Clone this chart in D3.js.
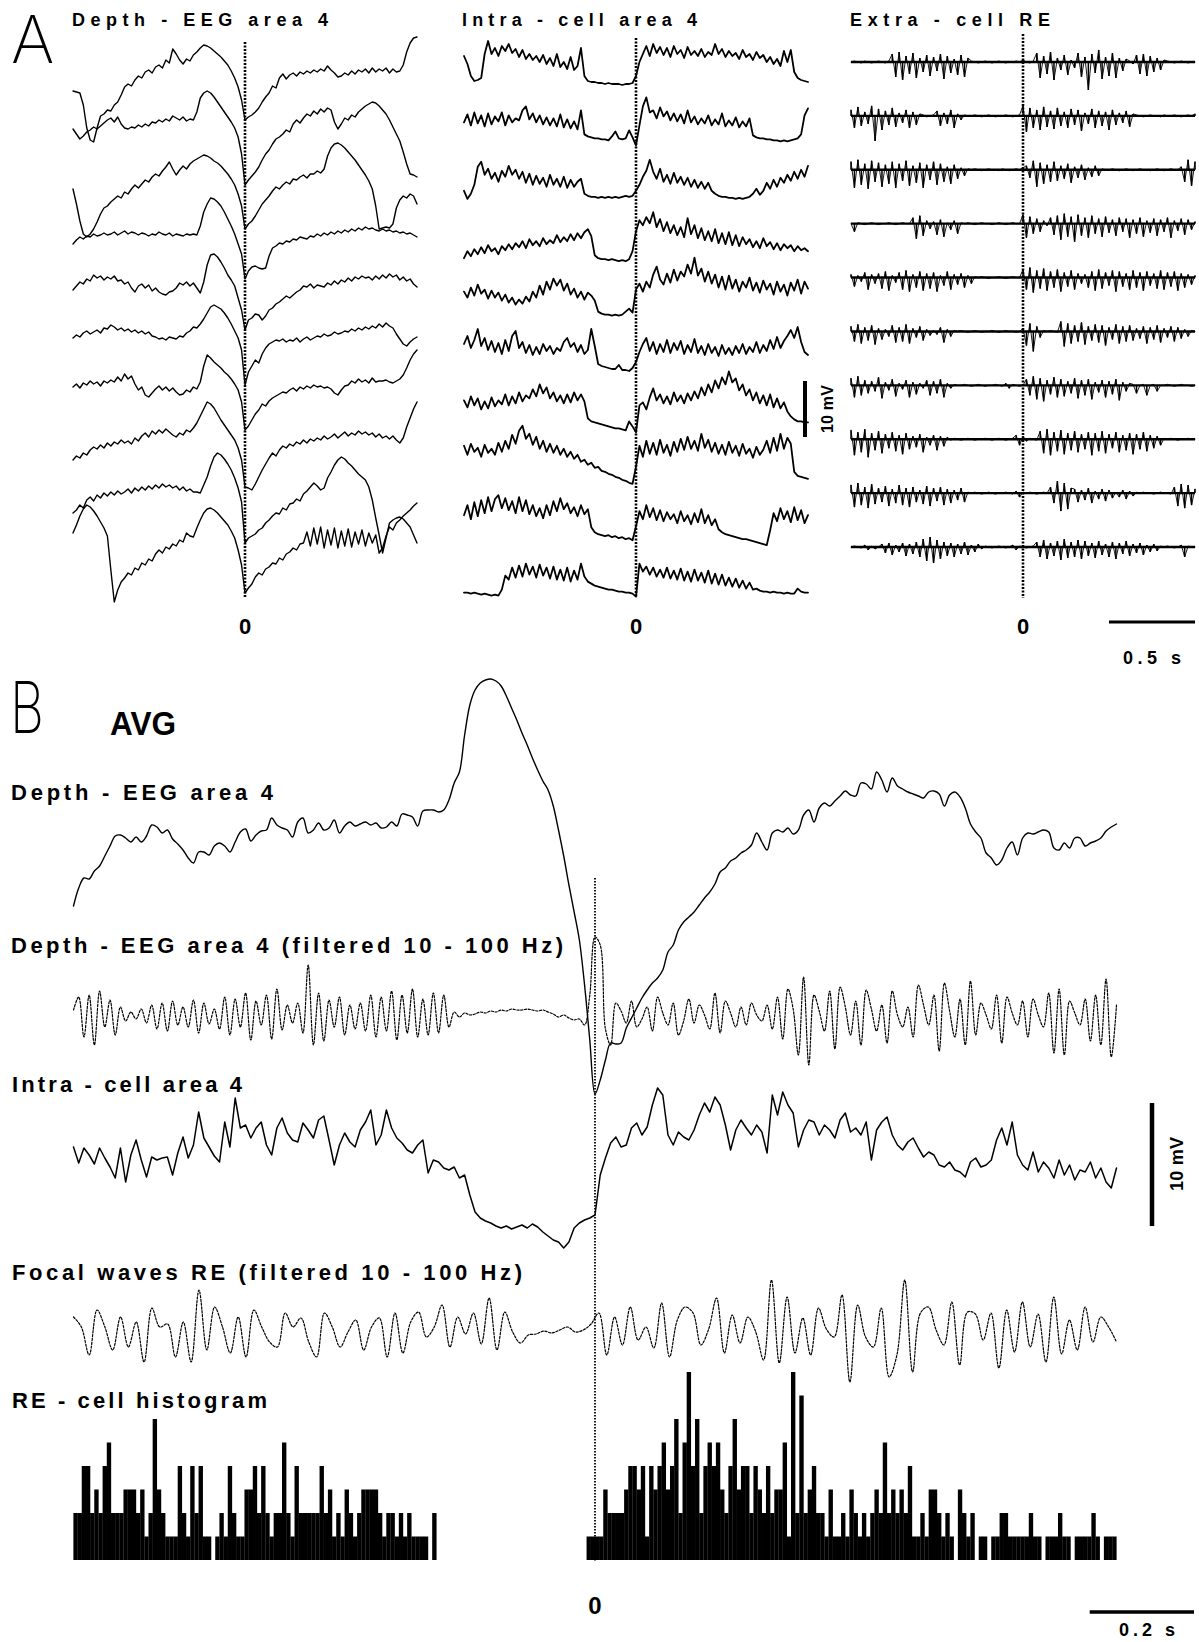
<!DOCTYPE html>
<html><head><meta charset="utf-8">
<script src="https://cdn.jsdelivr.net/npm/d3@7"></script>
<style>body{margin:0;background:#fff}svg{display:block;background:#fff}</style>
</head><body>
<svg id="c" width="1199" height="1642"></svg>
<script>
// ================= DATA =================
// Panel A, depth-EEG area 4: 10 sweeps, 101 samples from -1 s to +1 s (amplitude, a.u., positive up)
const eegA1 = [-1,-2,-3,-15,-38,-50,-52,-38,-26,-24,-20,-21,-15,-12,-5,3,6,4,10,14,12,18,20,17,23,25,22,30,27,41,36,30,26,31,29,35,38,42,45,44,42,39,36,33,29,25,19,12,3,-10,-30,-27,-25,-22,-18,-12,-7,-3,4,2,12,16,11,15,17,14,18,16,19,17,20,18,21,19,24,20,17,13,14,17,15,19,16,20,18,21,17,22,18,21,19,22,17,21,18,19,25,38,47,52,53];
const eegA2 = [11,6,1,4,8,10,13,11,14,17,20,22,18,23,16,12,11,13,12,15,13,16,14,18,17,20,18,21,19,24,22,20,23,19,21,20,28,42,47,49,47,43,38,33,28,23,18,12,3,-14,-45,-40,-36,-32,-27,-20,-14,-10,-4,1,3,6,10,8,16,20,17,22,26,24,29,26,31,28,32,30,18,11,16,22,20,25,23,28,31,34,36,38,37,34,30,26,20,13,6,-1,-12,-24,-34,-35,-37];
const eegA3 = [1,-14,-31,-44,-47,-44,-39,-32,-24,-18,-16,-12,-9,-6,-8,-2,-4,1,5,2,6,10,8,13,16,14,19,23,28,21,15,20,24,21,26,29,31,33,35,34,32,29,27,24,20,16,11,5,-4,-16,-39,-34,-31,-26,-20,-14,-10,-6,-1,3,1,5,8,6,11,10,13,15,12,16,16,19,17,21,34,42,46,47,45,42,38,34,30,25,20,15,9,1,-16,-39,-38,-37,-38,-34,-18,-10,-6,-8,-4,-6,-14];
const eegA4 = [-4,0,3,1,4,3,6,4,5,7,5,6,8,5,7,9,6,8,7,5,7,6,4,6,5,8,6,5,7,4,6,5,4,6,5,6,5,14,28,36,42,41,38,34,28,21,14,6,-4,-14,-39,-31,-27,-26,-28,-29,-28,-16,-8,-6,-3,-4,-1,-2,1,0,3,2,1,4,3,6,4,7,5,8,6,9,7,10,8,11,9,12,10,13,11,12,10,9,11,9,10,8,9,7,8,6,7,5,3];
const eegA5 = [0,4,8,6,11,9,15,12,14,10,13,11,14,9,10,6,8,2,-2,4,6,2,5,-1,2,-2,-4,-5,-2,-1,2,7,5,8,4,7,2,-3,8,25,35,36,33,28,22,15,10,4,-8,-20,-40,-30,-28,-24,-25,-30,-26,-20,-18,-14,-12,-9,-6,-8,-5,-2,0,4,3,6,2,5,4,3,7,5,9,6,10,8,12,9,13,11,14,12,13,10,14,11,15,12,16,13,15,10,13,9,11,6,3];
const eegA6 = [2,5,3,7,9,6,8,10,7,12,11,15,13,10,12,9,11,8,10,7,9,6,8,4,3,1,2,0,3,2,1,4,3,7,9,13,12,16,21,27,33,35,33,31,27,22,16,9,2,-10,-45,-32,-26,-20,-23,-14,-8,-4,-2,0,-1,1,-2,0,-1,2,-2,1,3,0,2,4,3,6,4,5,8,6,7,9,8,11,9,12,10,13,11,14,12,16,13,17,14,12,6,1,-4,-6,-2,1,3];
const eegA7 = [3,6,2,7,5,9,6,8,4,9,7,10,8,13,9,16,11,14,6,0,3,-5,-7,-3,1,4,0,3,-1,2,-2,-5,-4,0,-2,3,1,8,24,35,32,28,25,22,18,15,11,6,0,-12,-40,-36,-30,-24,-20,-14,-16,-11,-8,-6,-4,-2,-3,0,2,-1,3,1,4,2,5,3,4,2,3,1,-3,-5,0,4,5,9,7,11,8,10,7,12,8,9,9,10,8,7,9,11,15,22,30,36,40];
const eegA8 = [-20,-16,-18,-13,-15,-10,-7,-9,-5,-8,-3,-6,-2,-4,0,-3,-1,-4,2,-1,4,7,3,9,6,10,7,11,8,5,3,7,5,10,8,12,17,24,31,38,36,32,26,20,15,10,5,0,-8,-20,-47,-48,-50,-44,-37,-30,-24,-18,-13,-16,-10,-6,-8,-4,-6,-2,-4,0,-3,1,-1,2,0,4,1,3,6,2,5,8,4,7,5,9,6,8,5,7,3,6,2,4,1,4,0,-3,2,13,22,31,38];
const eegA9 = [-23,-20,-15,-18,-10,-7,-11,-5,-8,-3,-6,-2,-5,-1,-4,-2,1,-3,2,-1,3,0,4,1,5,2,6,3,5,2,4,0,3,-1,1,-2,-2,-3,5,13,24,33,37,35,31,26,20,12,2,-12,-53,-48,-46,-44,-40,-38,-33,-30,-26,-23,-24,-18,-20,-14,-13,-9,-11,-4,-1,3,7,4,0,2,12,18,25,30,33,31,27,24,20,16,13,10,3,-10,-28,-45,-63,-48,-33,-30,-28,-27,-29,-33,-37,-45,-53];
const eegA10 = [7,15,24,31,35,33,29,24,18,12,4,-30,-62,-50,-42,-38,-33,-35,-28,-30,-23,-25,-19,-21,-14,-10,-13,-7,-9,-4,-6,0,-2,7,4,3,12,20,27,31,32,30,27,23,19,15,9,2,-10,-25,-53,-48,-44,-37,-33,-35,-29,-27,-23,-24,-18,-20,-14,-12,-8,-10,-4,-3,8,-6,12,-4,13,-8,10,-5,12,-8,9,-6,11,-7,8,-4,10,-6,7,-3,5,-13,-8,4,13,10,17,20,24,27,30,34,37];

// Panel A, intracellular area 4 (positive = depolarised)
const intraA1 = [28,20,8,3,4,6,30,43,30,36,28,38,33,40,31,35,27,34,25,30,24,28,22,29,20,26,18,30,17,22,15,27,14,18,36,8,3,2,2,1,1,0,1,0,0,0,-1,0,0,1,8,22,30,38,28,40,31,37,29,36,27,38,30,34,26,37,29,33,28,35,27,32,29,40,30,35,27,33,28,31,25,34,27,30,24,32,26,29,22,27,20,25,18,33,22,34,12,6,4,3,2];
const intraA2 = [18,26,15,28,17,25,14,27,16,24,19,28,15,25,18,22,20,30,34,21,27,18,25,16,23,15,22,14,26,13,21,12,19,11,30,6,4,3,2,2,1,1,0,4,9,2,1,2,10,3,-5,15,34,43,28,30,22,33,24,29,20,27,19,26,17,30,18,24,16,22,17,25,15,21,16,27,14,20,15,23,13,19,14,22,5,3,2,2,1,1,0,0,-1,0,-1,0,1,2,6,25,32];
const intraA3 = [6,-2,3,12,30,35,22,28,18,24,15,26,20,31,22,27,18,25,14,23,12,21,13,19,10,22,12,18,10,20,9,17,10,15,18,3,1,0,0,-1,0,-1,0,-1,0,-1,0,1,0,1,6,12,20,26,37,25,18,28,15,22,13,24,14,20,12,19,10,17,9,15,8,14,6,3,1,0,0,-1,-1,-2,-1,-2,-1,0,3,8,2,6,14,8,17,10,19,14,22,16,25,18,27,20,31];
const intraA4 = [-5,2,-3,4,-1,6,0,8,2,5,-1,7,3,9,4,10,6,12,5,14,8,12,7,15,9,13,10,18,11,16,12,19,13,20,15,21,24,17,-2,-5,-6,-6,-7,-6,-7,-8,-7,-8,-6,2,22,33,28,36,30,41,26,34,22,31,20,28,18,26,16,35,19,28,15,25,13,22,12,24,10,20,9,21,8,18,7,16,9,14,6,12,5,15,7,11,4,10,3,9,5,8,2,7,3,5,2];
const intraA5 = [18,12,22,14,25,16,20,11,19,12,17,9,15,7,12,5,10,6,13,8,18,12,24,15,28,20,31,24,30,19,26,15,21,12,18,10,17,14,9,-2,-4,-5,-5,-6,-5,-6,-5,-2,1,-3,20,26,18,28,22,35,43,30,25,36,27,40,29,38,33,45,36,52,34,41,28,38,26,35,22,33,20,34,21,30,18,28,22,32,19,27,17,29,20,26,15,28,18,25,14,27,19,30,16,28,21];
const intraA6 = [22,30,18,26,37,20,28,16,25,14,23,12,26,15,30,35,18,24,13,21,11,19,12,22,15,20,12,18,15,24,28,19,23,14,21,12,16,37,20,2,0,-1,-2,-3,-3,1,-4,-4,-5,-2,4,14,22,28,15,24,12,22,14,26,13,23,16,25,12,21,14,27,13,20,11,22,13,19,10,21,12,18,11,20,13,22,12,19,14,24,13,21,15,26,17,29,18,25,30,36,28,39,24,14,11];
const intraA7 = [22,15,26,17,24,13,21,14,25,16,22,18,28,17,26,19,30,21,27,24,33,26,38,29,35,24,30,21,27,19,28,20,30,22,28,21,4,1,0,-1,-2,-3,-4,-5,-6,-6,-7,-8,1,-4,-10,17,20,13,25,34,22,28,19,26,18,30,21,27,19,29,22,31,24,35,27,38,30,42,34,45,38,51,40,44,32,38,27,33,22,30,19,27,17,28,15,24,14,20,11,6,3,1,1,0,0];
const intraA8 = [33,24,35,27,31,22,34,26,30,24,36,27,38,30,44,35,48,53,40,45,34,42,30,38,27,35,26,33,24,30,22,27,20,24,17,19,14,16,11,12,8,7,5,4,2,1,-1,-2,-4,-5,12,33,22,38,25,36,24,39,26,34,23,37,27,40,29,42,30,38,28,45,31,39,27,36,25,34,24,37,26,33,23,35,25,30,21,32,24,29,38,26,41,28,45,30,41,35,7,3,2,1,0];
const intraA9 = [20,30,16,33,19,35,22,38,24,36,40,27,37,25,34,22,38,24,35,21,30,19,27,17,30,20,34,24,37,26,32,22,28,19,30,21,26,8,3,1,0,-1,0,-2,-1,-3,-2,-4,-3,-5,9,24,16,30,18,27,15,25,14,23,16,21,12,24,14,20,11,22,13,26,12,20,10,16,6,3,1,0,-1,-2,-3,-4,-4,-5,-6,-7,-8,-9,-10,5,22,14,27,16,24,13,28,15,25,12,20];
const intraA10 = [-1,-1,-2,-1,-2,-3,-2,-3,-4,-3,-4,2,16,12,24,14,26,15,28,17,25,14,27,16,24,13,25,12,22,11,24,10,21,12,28,15,10,8,6,5,4,3,2,2,1,0,0,-1,-1,-2,-5,28,20,25,17,24,15,22,14,24,13,21,12,23,11,20,10,22,11,19,9,21,8,18,7,17,6,14,5,13,4,11,3,9,2,3,1,0,0,-1,0,-1,-1,-2,-1,-2,-2,3,0,-1,-1];

// Panel A, extracellular RE cell (unit discharges)
const extraA1 = [0,1,0,-1,1,0,-1,0,1,0,-1,1,8,-15,10,-18,6,-12,9,-16,4,-10,7,-14,5,-9,8,-17,6,-11,3,-13,7,-15,4,1,0,-1,0,1,0,-1,0,1,0,-1,0,0,1,0,2,0,-1,1,9,-16,6,-12,10,-18,4,-8,7,-13,2,-6,9,-15,5,-28,8,-11,12,-17,5,-14,9,-16,4,-9,3,1,-2,7,-12,8,-14,6,-10,4,-8,2,1,0,-1,0,1,0,-1,0,0];
const extraA2 = [6,-12,9,-10,4,-8,10,-25,7,-14,5,-9,8,-11,3,-7,6,-12,4,-9,2,1,-1,0,1,5,-10,3,-8,6,-12,2,-4,1,0,0,1,0,-1,0,1,0,-1,0,0,1,0,-1,0,1,10,-16,8,-12,6,-14,9,-11,5,-13,8,-10,4,-12,7,-9,6,-15,3,-8,7,-12,5,-10,4,-14,6,-9,3,-7,5,-11,2,1,0,-1,0,1,0,0,-1,1,0,0,1,0,-1,0,1,0,2];
const extraA3 = [8,-18,10,-15,6,-19,9,-12,7,-17,5,-14,8,-18,6,-11,9,-16,4,-13,7,-18,5,-10,8,-15,6,-12,3,-14,5,-9,2,-6,1,0,1,0,-1,0,1,0,0,-1,1,0,-1,0,1,0,2,4,-8,9,-17,7,-14,5,-12,8,-11,4,-9,6,-13,3,-8,5,-10,2,-7,4,-6,1,0,0,1,0,-1,0,1,0,-1,0,1,0,0,-1,0,1,0,-1,0,1,0,0,3,-12,10,-16,8];
const extraA4 = [0,-8,1,0,-1,0,1,0,-1,0,0,1,0,-1,0,1,0,0,6,-15,8,-12,3,-5,2,-11,4,-13,1,-6,3,-10,1,0,1,0,-1,0,1,0,0,-1,0,1,0,-1,0,1,0,0,9,-14,7,-10,5,-8,3,-2,6,-11,8,-16,10,-13,7,-18,9,-12,6,-14,8,-10,5,-13,7,-9,4,-12,6,-8,5,-14,4,-10,6,-13,3,-9,5,-12,4,-8,6,-14,3,-7,5,-11,4,-6,2];
const extraA5 = [3,-9,2,-4,5,-12,3,-6,4,-11,6,-13,2,-5,5,-12,7,-14,3,-10,6,-13,4,-11,5,-14,2,-8,6,-12,3,-7,4,-10,2,-6,1,0,1,0,-1,0,0,1,0,-1,0,1,0,0,8,-12,10,-15,7,-11,9,-13,6,-10,8,-14,5,-9,7,-12,4,-6,3,-10,6,-13,8,-11,5,-8,7,-14,6,-9,4,-12,7,-10,5,-13,6,-8,4,-11,7,-12,5,-9,6,-13,4,-10,3,-7,2];
const extraA6 = [5,-10,7,-12,4,-9,6,-13,3,-8,2,-5,6,-11,4,-10,7,-12,3,-6,5,-9,2,-4,1,-3,4,-11,2,-5,1,0,1,0,-1,0,1,0,-1,0,0,1,0,-1,0,1,0,0,-1,0,3,-14,8,-20,5,-6,1,0,1,0,-1,10,-15,8,-12,6,-10,9,-13,5,-9,7,-11,6,-14,4,-8,7,-12,5,-10,6,-9,3,-7,5,-12,4,-8,6,-11,3,-6,5,-10,4,-7,2,-5,1,0];
const extraA7 = [7,-12,9,-10,5,-8,4,-6,8,-13,3,-5,6,-11,2,-4,5,-12,3,-9,2,-3,5,-10,4,-8,6,-12,2,-3,1,0,0,1,0,-1,0,1,0,-1,0,0,1,0,-1,2,-3,1,0,-1,0,6,-10,9,-14,7,-16,5,-9,8,-12,6,-11,4,-8,7,-13,5,-10,6,-14,3,-7,5,-12,4,-9,6,-15,3,-6,2,1,-8,0,1,-10,0,1,-6,0,0,1,0,-1,0,1,0,0,-1,0];
const extraA8 = [9,-16,7,-13,10,-18,6,-11,8,-14,5,-9,7,-12,4,-15,6,-10,3,-8,5,-13,2,-6,4,-11,3,-7,2,-1,1,0,-1,0,1,0,-1,0,0,1,0,-1,0,1,0,-1,0,1,4,-6,3,-2,1,0,-1,8,-14,10,-16,7,-12,9,-15,6,-11,8,-13,5,-10,7,-16,6,-12,8,-14,5,-9,7,-13,4,-11,6,-15,5,-10,7,-12,4,-9,3,-6,1,0,1,0,-1,0,0,1,0,0];
const extraA9 = [8,-14,10,-12,6,-15,9,-11,5,-9,7,-13,4,-10,8,-12,5,-14,6,-9,3,-11,7,-13,5,-8,6,-12,4,-10,3,-7,5,-9,1,0,1,0,-1,0,1,0,-1,0,0,1,0,-1,2,-4,1,0,1,0,-1,0,1,0,6,-10,12,-18,10,-16,5,4,-9,3,-7,5,-10,2,-6,4,-8,3,-5,1,-4,3,-6,2,-3,1,0,1,0,0,-1,0,1,0,0,-1,6,-13,9,-15,8,-12,4];
const extraA10 = [0,1,0,-1,2,-3,1,-2,0,3,-6,4,-8,2,-5,4,-9,3,-7,5,-10,8,-14,10,-16,7,-12,5,-9,4,-10,3,-7,5,-8,2,-5,3,-2,1,0,-1,0,1,0,-1,0,2,-3,1,0,-1,0,1,5,-10,7,-12,4,-9,6,-13,8,-11,5,-10,7,-12,6,-9,4,-11,6,-8,3,-10,5,-12,4,-7,6,-9,3,-6,4,-8,2,-5,3,-4,1,0,1,0,-1,0,2,-10,1,0,0];

// Panel B, averages: 201 samples from -1 s to +1 s
const eegAvgB = [-66,-48,-38,-39,-31,-26,-16,-6,4,5,2,-2,3,-2,4,15,13,7,10,1,-4,-10,-18,-23,-12,-12,-15,-6,-3,-6,-12,-2,8,11,-1,5,9,10,22,15,12,10,3,18,22,7,10,17,10,12,20,7,14,18,14,16,18,15,17,12,13,18,14,26,25,23,14,29,30,30,28,30,40,57,68,105,135,150,157,160,161,159,154,144,132,120,107,95,82,70,59,50,34,10,-16,-45,-72,-100,-145,-200,-254,-240,-220,-203,-204,-203,-188,-178,-168,-158,-150,-143,-138,-130,-112,-105,-90,-82,-77,-72,-65,-58,-52,-44,-32,-28,-21,-18,-13,-10,-5,7,-2,-10,7,10,8,12,6,10,25,30,18,32,37,34,39,44,49,45,44,57,56,51,68,60,48,62,54,51,48,46,44,42,48,49,46,34,45,48,43,32,16,8,2,-13,-18,-25,-20,-8,-2,-15,2,7,6,8,10,8,-8,-10,-3,-8,2,2,-6,-3,-1,2,9,13,16];
const eegFiltB = [5,18,-22,20,-30,24,-12,15,-20,8,-6,3,-4,6,-8,10,-14,12,-16,14,-10,8,-12,15,-18,12,-9,6,-14,18,-20,16,-12,22,-25,14,-10,20,-24,26,-15,10,-8,12,-18,50,-30,22,-26,15,-12,18,-20,10,-14,12,-16,20,-22,18,-16,24,-25,20,-18,26,-22,16,-20,22,-18,20,-12,3,-2,2,0,1,3,2,4,3,5,4,6,5,5,6,5,4,5,3,1,-2,0,-3,-5,-4,-10,20,78,70,-14,-30,12,4,-8,14,-12,-4,8,-16,18,2,-10,12,-20,-6,16,-8,10,0,-14,22,-18,14,2,-12,8,-10,12,0,-6,10,-14,18,-24,26,6,-40,38,-50,20,4,-16,24,-34,28,8,-20,14,-30,25,6,-16,10,-28,24,0,-12,8,-22,30,10,-10,20,-36,32,4,-22,16,-30,34,-20,12,0,-14,20,-28,18,2,-10,14,-22,16,0,-12,22,-38,26,-40,14,2,-10,16,-26,20,-30,36,-42,10];
const intraAvgB = [3,-13,2,-5,-14,2,-8,-17,-28,2,-32,-5,10,-10,-27,-7,-10,-8,-7,-25,-3,13,-8,5,38,12,3,-6,-12,28,3,52,22,25,12,22,28,5,-5,22,32,17,10,8,27,20,12,30,34,10,-15,5,17,8,3,20,28,40,5,15,40,22,12,7,0,-3,5,10,-23,-10,-12,-18,-20,-17,-28,-25,-45,-62,-68,-71,-73,-76,-78,-76,-79,-77,-75,-78,-74,-77,-82,-86,-90,-92,-98,-92,-78,-73,-70,-68,-65,-25,-8,7,13,3,5,22,27,15,23,45,62,55,15,5,18,13,10,20,35,47,38,53,45,25,0,20,30,22,15,25,18,-3,55,35,58,45,37,3,20,30,28,15,25,20,12,30,37,18,22,15,28,-10,20,28,33,15,5,0,8,12,2,-7,-2,-5,-15,-17,-12,-20,-22,-27,-12,-8,-17,-15,-10,10,22,5,28,-5,-15,-20,-2,-22,-12,-18,-28,-10,-25,-15,-30,-20,-22,-12,-28,-18,-32,-38,-18];
// Focal waves RE (filtered), 134 samples from -1 s to +1 s
const focalB = [15,5,-23,22,5,-18,15,-15,10,-30,24,5,8,-25,10,-30,42,-18,25,5,-21,15,-25,22,5,-10,-15,19,5,14,-10,-25,19,5,-15,0,12,-18,5,14,-25,19,-21,10,20,-5,5,27,-15,15,-2,19,-12,34,-18,20,0,-11,-3,-2,1,-1,2,5,0,2,8,19,-23,15,-13,25,-8,5,-16,29,-25,12,25,19,-13,3,34,-21,17,-11,15,0,-28,52,-31,35,-21,14,-23,24,3,-5,37,-50,27,-5,-15,24,-45,-23,52,-40,19,25,2,-13,30,-33,20,18,-8,19,-36,22,-20,30,-15,18,-30,35,-22,12,-18,25,-10,15,5,-10];
// RE-cell histogram: spike counts in 250 bins of 8 ms from -1 s to +1 s
const histCountsB = [2,2,4,4,2,3,2,4,5,2,2,2,3,3,3,2,3,1,2,6,3,2,1,1,1,4,2,1,4,2,4,1,1,0,1,2,1,4,2,1,1,3,3,4,2,4,2,1,2,2,5,2,1,4,2,2,2,2,2,4,2,3,1,2,1,3,2,1,2,3,3,3,3,2,1,2,2,1,2,1,2,1,1,1,1,0,2,
0,0,0,0,0,0,0,0,0,0,0,0,0,0,0,0,0,0,0,0,0,0,0,0,0,0,0,0,0,0,0,0,0,0,0,0,
1,1,1,1,3,2,2,2,2,3,4,4,3,4,1,4,3,4,5,3,4,6,2,5,8,4,6,2,4,5,4,5,3,2,4,6,3,4,4,2,4,3,2,4,2,3,3,5,1,8,2,7,2,3,4,2,2,1,3,1,1,2,1,3,2,1,2,1,2,3,2,5,2,3,2,3,2,4,1,1,2,1,3,3,2,1,2,1,0,3,
2,1,2,0,1,1,0,1,1,2,2,1,1,1,1,1,2,1,1,0,1,1,1,2,1,1,0,1,1,1,1,2,1,0,1,1,1];

// Text
const titlesA = ["Depth - EEG area 4", "Intra - cell area 4", "Extra - cell RE"];
const labelsB = ["Depth - EEG area 4", "Depth - EEG area 4 (filtered 10 - 100 Hz)", "Intra - cell area 4", "Focal waves RE (filtered 10 - 100 Hz)", "RE - cell histogram"];
const zeroLabel = "0";
const voltLabel = "10 mV";
const timeLabelA = "0.5 s";
const timeLabelB = "0.2 s";

// ================= DRAWING =================
const svg = d3.select('#c');
const FONT = "'Liberation Sans', Arial, Helvetica, sans-serif";
const amp = d3.scaleLinear().domain([0, 1]).range([0, -1]);

function idxTime(n) { return d3.scaleLinear().domain([0, n - 1]).range([-1, 1]); }
function trace(data, xs, baseY, o) {
  const it = idxTime(data.length);
  const line = d3.line().x((d, i) => xs(it(i))).y(d => baseY + amp(d)).curve(o.curve || d3.curveLinear);
  return svg.append('path').attr('d', line(data)).attr('fill', 'none').attr('stroke', '#000')
    .attr('stroke-width', o.w || 1.3).attr('stroke-linejoin', 'round').attr('stroke-linecap', 'round')
    .attr('stroke-dasharray', o.dash || null);
}
function spikes(data, xs, baseY) {
  // unit discharges drawn as vertical strokes from the trace baseline
  const it = idxTime(data.length);
  svg.append('line').attr('x1', xs(-1)).attr('x2', xs(1)).attr('y1', baseY).attr('y2', baseY)
    .attr('stroke', '#000').attr('stroke-width', 2.4);
  svg.append('g').selectAll('line').data(data.map((v, i) => ({ v, i })).filter(d => Math.abs(d.v) >= 2))
    .join('line')
    .attr('x1', d => xs(it(d.i))).attr('x2', d => xs(it(d.i)))
    .attr('y1', baseY).attr('y2', d => baseY + amp(d.v))
    .attr('stroke', '#000').attr('stroke-width', 1.5);
  trace(data, xs, baseY, { w: 0.9 });
}
function label(txt, x, y, size, len, o = {}) {
  const t = svg.append('text').attr('x', x).attr('y', y).text(txt)
    .attr('font-family', o.family || FONT).attr('font-size', size)
    .attr('font-weight', o.weight || 'bold').attr('fill', '#000');
  if (len) t.attr('textLength', len).attr('lengthAdjust', o.adj || 'spacing');
  if (o.anchor) t.attr('text-anchor', o.anchor);
  if (o.rot) t.attr('transform', `rotate(-90 ${x} ${y})`);
  return t;
}
function dotted(x, y0, y1, w, dash) {
  svg.append('line').attr('x1', x).attr('x2', x).attr('y1', y0).attr('y2', y1)
    .attr('stroke', '#000').attr('stroke-width', w).attr('stroke-dasharray', dash);
}

// ---- Panel A ----
const xEEG = d3.scaleLinear().domain([-1, 1]).range([73, 417]);
const xIntra = d3.scaleLinear().domain([-1, 1]).range([464, 808]);
const xExtra = d3.scaleLinear().domain([-1, 1]).range([851, 1195]);
const rowEEG = d3.scaleLinear().domain([0, 9]).range([90, 540]);
const rowIntra = d3.scaleLinear().domain([0, 9]).range([84, 591.6]);
const rowExtra = d3.scaleLinear().domain([0, 9]).range([62, 547]);

const eegA = [eegA1, eegA2, eegA3, eegA4, eegA5, eegA6, eegA7, eegA8, eegA9, eegA10];
const intraA = [intraA1, intraA2, intraA3, intraA4, intraA5, intraA6, intraA7, intraA8, intraA9, intraA10];
const extraA = [extraA1, extraA2, extraA3, extraA4, extraA5, extraA6, extraA7, extraA8, extraA9, extraA10];

dotted(xEEG(0), 42, 598, 2.6, '2,1.5');
dotted(xIntra(0), 38, 597, 2.6, '2,1.5');
dotted(xExtra(0), 34, 598, 2.6, '2,1.5');

eegA.forEach((d, i) => trace(d, xEEG, rowEEG(i), { w: 1.4 }));
intraA.forEach((d, i) => trace(d, xIntra, rowIntra(i), { w: 1.8 }));
extraA.forEach((d, i) => spikes(d, xExtra, rowExtra(i)));

label('A', 11, 63, 66, null, { family: "Inter, 'DejaVu Sans', sans-serif", weight: 200 });
label(titlesA[0], 72, 26, 18, 256);
label(titlesA[1], 462, 26, 18, 235);
label(titlesA[2], 850, 26, 18, 200);
[xEEG(0), xIntra(0), xExtra(0)].forEach(x => label(zeroLabel, x, 634, 22, null, { anchor: 'middle' }));

// 10 mV bar (A)
svg.append('line').attr('x1', 805).attr('x2', 805).attr('y1', 381).attr('y2', 437).attr('stroke', '#000').attr('stroke-width', 4);
label(voltLabel, 833, 409, 16, 48, { anchor: 'middle', rot: true });
// 0.5 s bar (A)
svg.append('line').attr('x1', xExtra(1) - (xExtra(0.5) - xExtra(0))).attr('x2', xExtra(1)).attr('y1', 622).attr('y2', 622).attr('stroke', '#000').attr('stroke-width', 3);
label(timeLabelA, 1152, 664, 18, 58, { anchor: 'middle' });

// ---- Panel B ----
const xB = d3.scaleLinear().domain([-1, 1]).range([73.5, 1116.5]);
const yHist = d3.scaleLinear().domain([0, 8]).range([1560, 1372]);

label('B', 10, 733, 72, 34, { family: "Inter, 'DejaVu Sans', sans-serif", weight: 200, adj: 'spacingAndGlyphs' });
label('AVG', 110, 735, 33, 66, { adj: 'spacingAndGlyphs' });
label(labelsB[0], 11, 800, 22, 262);
label(labelsB[1], 11, 953, 22, 552);
label(labelsB[2], 12, 1092, 22, 230);
label(labelsB[3], 12, 1280, 22, 510);
label(labelsB[4], 12, 1408, 22, 255);

dotted(xB(0), 878, 1562, 1.8, '1.6,1.4');

trace(eegFiltB, xB, 1015, { w: 1.2, dash: '2.2,1.6', curve: d3.curveCatmullRom });
trace(focalB, xB, 1332, { w: 1.2, dash: '2.2,1.6', curve: d3.curveCatmullRom });
trace(eegAvgB, xB, 840, { w: 1.4, curve: d3.curveCatmullRom });
trace(intraAvgB, xB, 1150, { w: 1.5 });

// histogram
const binT = d3.scaleLinear().domain([0, histCountsB.length]).range([-1, 1]);
const binW = xB(binT(1)) - xB(binT(0));
svg.append('g').selectAll('rect').data(histCountsB.map((c, i) => ({ c, i })).filter(d => d.c > 0))
  .join('rect')
  .attr('x', d => xB(binT(d.i)) - 0.1)
  .attr('width', binW + 0.2)
  .attr('y', d => yHist(d.c))
  .attr('height', d => yHist(0) - yHist(d.c))
  .attr('fill', '#000');

label(zeroLabel, xB(0), 1614, 24, null, { anchor: 'middle' });
// 10 mV bar (B)
svg.append('line').attr('x1', 1152).attr('x2', 1152).attr('y1', 1103).attr('y2', 1226).attr('stroke', '#000').attr('stroke-width', 4.5);
label(voltLabel, 1183, 1164, 18, 54, { anchor: 'middle', rot: true });
// 0.2 s bar (B)
svg.append('line').attr('x1', 1194 - (xB(0.2) - xB(0))).attr('x2', 1194).attr('y1', 1612).attr('y2', 1612).attr('stroke', '#000').attr('stroke-width', 3.5);
label(timeLabelB, 1147, 1636, 18, 56, { anchor: 'middle' });
</script>
</body></html>
